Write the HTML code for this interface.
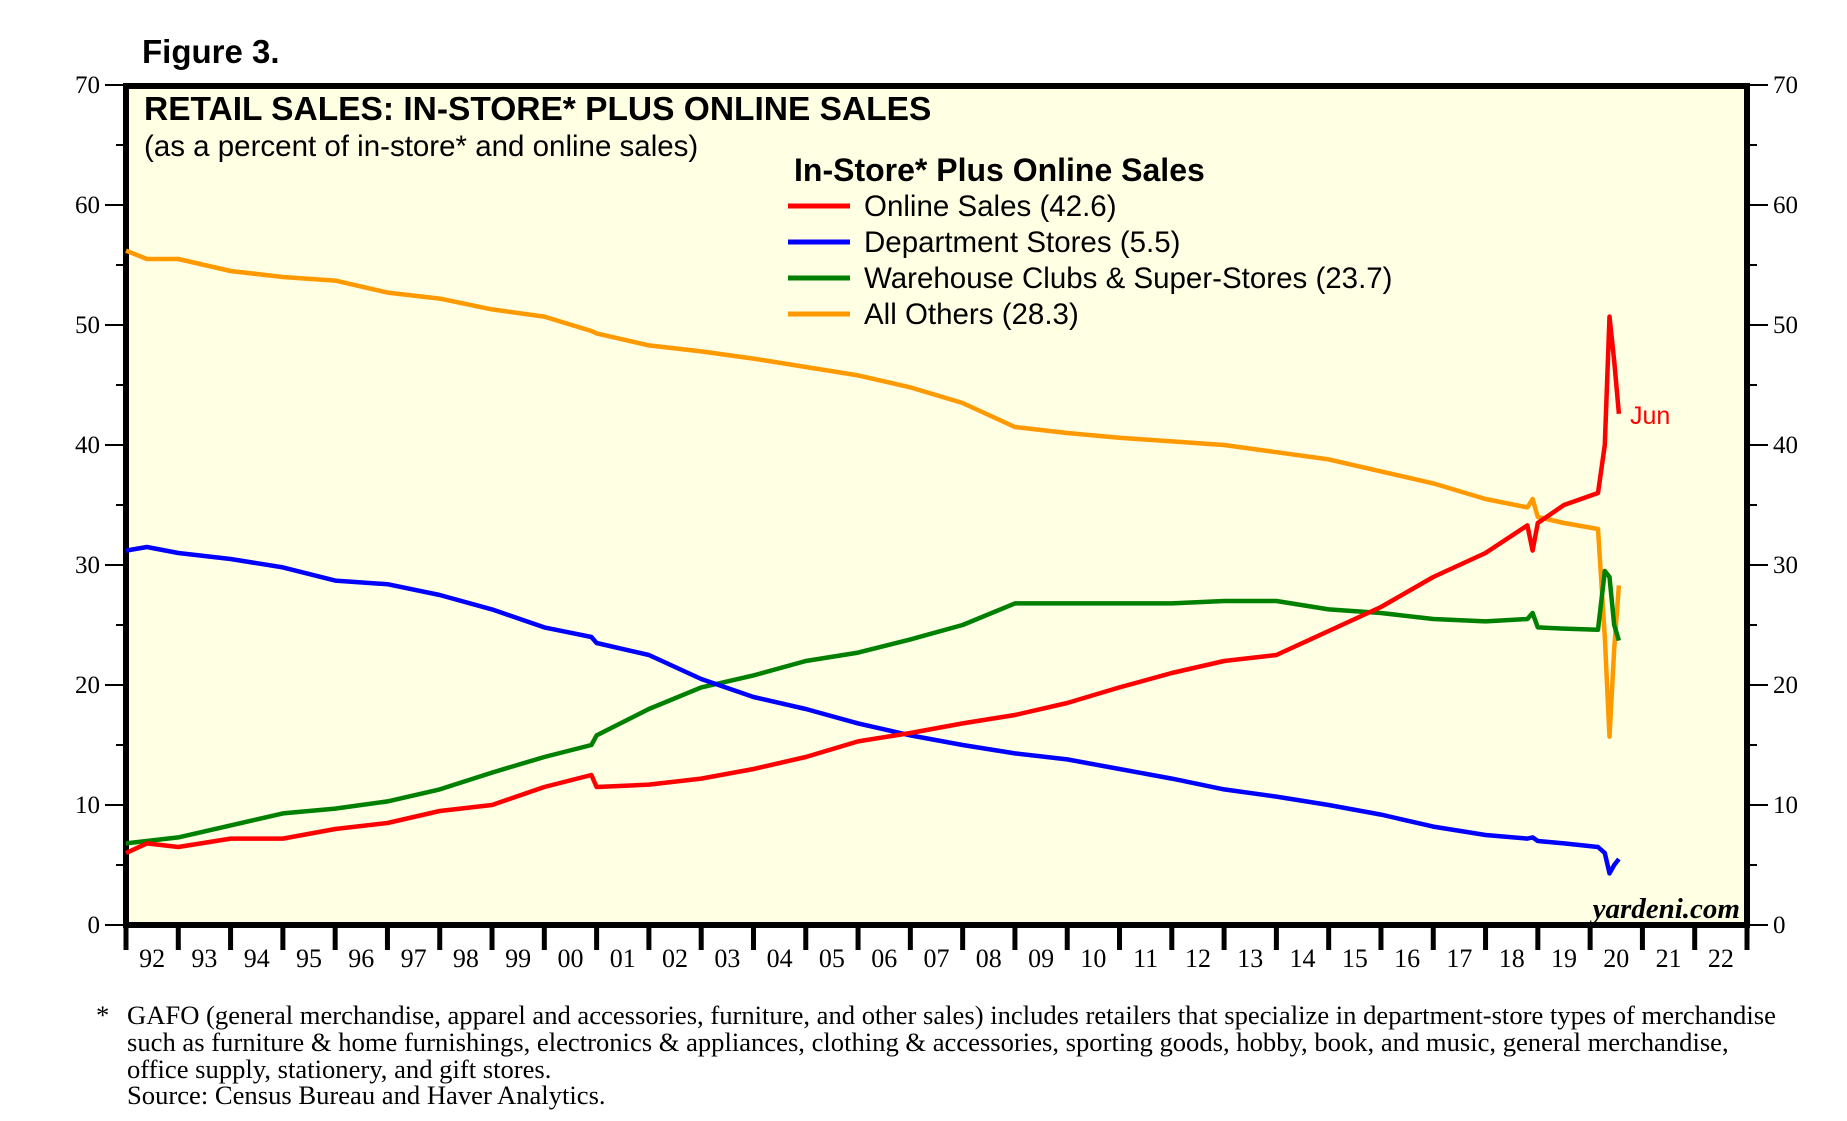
<!DOCTYPE html>
<html><head><meta charset="utf-8"><style>
body{margin:0;background:#fff;}
svg{display:block;}
</style></head><body>
<svg id="chart" width="1847" height="1121" viewBox="0 0 1847 1121" xmlns="http://www.w3.org/2000/svg">
<text x="142" y="63" font-family="Liberation Sans, sans-serif" font-weight="bold" font-size="33">Figure 3.</text>
<rect x="126" y="86" width="1621" height="839" fill="#ffffe3" stroke="#000" stroke-width="6"/>
<g id="axes"></g>
<g id="series"></g>
<text x="144" y="120" font-family="Liberation Sans, sans-serif" font-weight="bold" font-size="33.5">RETAIL SALES: IN-STORE* PLUS ONLINE SALES</text>
<text x="144" y="156" font-family="Liberation Sans, sans-serif" font-size="29.5">(as a percent of in-store* and online sales)</text>
<g id="legend"></g>
<text x="1630" y="424" fill="#f00" font-family="Liberation Sans, sans-serif" font-size="25">Jun</text>
<text x="1740" y="918" text-anchor="end" font-family="Liberation Serif, serif" font-weight="bold" font-style="italic" font-size="29">yardeni.com</text>
<g font-family="Liberation Serif, serif" font-size="26.6">
<text x="96" y="1024">*</text>
<text x="127" y="1024">GAFO (general merchandise, apparel and accessories, furniture, and other sales) includes retailers that specialize in department-store types of merchandise</text>
<text x="127" y="1051">such as furniture &amp; home furnishings, electronics &amp; appliances, clothing &amp; accessories, sporting goods, hobby, book, and music, general merchandise,</text>
<text x="127" y="1078">office supply, stationery, and gift stores.</text>
<text x="127" y="1104">Source: Census Bureau and Haver Analytics.</text>
</g>
</svg>
<script>
const dates = [1992,1992.4,1993,1994,1995,1996,1997,1998,1999,2000,2000.9,2001,2002,2003,2004,2005,2006,2007,2008,2009,2010,2011,2012,2013,2014,2015,2016,2017,2018,2018.8,2018.9,2019,2019.5,2020.15,2020.28,2020.37,2020.46,2020.55];
const online = [6,6.8,6.5,7.2,7.2,8,8.5,9.5,10,11.5,12.5,11.5,11.7,12.2,13,14,15.3,16,16.8,17.5,18.5,19.8,21,22,22.5,24.5,26.5,29,31,33.3,31.2,33.5,35,36,40,50.7,47,42.6];
const dept = [31.2,31.5,31,30.5,29.8,28.7,28.4,27.5,26.3,24.8,24,23.5,22.5,20.5,19,18,16.8,15.8,15,14.3,13.8,13,12.2,11.3,10.7,10,9.2,8.2,7.5,7.2,7.3,7,6.8,6.5,6,4.3,5,5.5];
const warehouse = [6.8,7,7.3,8.3,9.3,9.7,10.3,11.3,12.7,14,15,15.8,18,19.8,20.8,22,22.7,23.8,25,26.8,26.8,26.8,26.8,27,27,26.3,26,25.5,25.3,25.5,26,24.8,24.7,24.6,29.5,29,25,23.7];
const others = [56.2,55.5,55.5,54.5,54,53.7,52.7,52.2,51.3,50.7,49.5,49.3,48.3,47.8,47.2,46.5,45.8,44.8,43.5,41.5,41,40.6,40.3,40,39.4,38.8,37.8,36.8,35.5,34.8,35.5,34,33.5,33,24,15.7,23,28.3];
const yTicks = [0,10,20,30,40,50,60,70];
const yearLabels = ["92","93","94","95","96","97","98","99","00","01","02","03","04","05","06","07","08","09","10","11","12","13","14","15","16","17","18","19","20","21","22"];
const legendNames = ["Online Sales (42.6)","Department Stores (5.5)","Warehouse Clubs & Super-Stores (23.7)","All Others (28.3)"];

const NS="http://www.w3.org/2000/svg";
const X0=126,X1=1747,Y0=925,Y1=85;
function xs(t){return X0+(t-1992)*(X1-X0)/31;}
function ys(v){return Y0-v*(Y0-Y1)/70;}
function mk(tag,attrs,parent){const e=document.createElementNS(NS,tag);for(const k in attrs)e.setAttribute(k,attrs[k]);parent.appendChild(e);return e;}
const axes=document.getElementById('axes');
for(let v=0;v<=70;v+=5){
  const major=v%10===0;
  const l=mk('line',{x1:major?105:116,x2:126,y1:ys(v),y2:ys(v),stroke:'#000','stroke-width':2},axes);
  
  
  const r=mk('line',{x1:1747,x2:major?1768:1757,y1:ys(v),y2:ys(v),stroke:'#000','stroke-width':2},axes);
  
  
}
yTicks.forEach(v=>{
  const a=mk('text',{x:100,y:ys(v)+8,'text-anchor':'end','font-family':'Liberation Serif, serif','font-size':25},axes);a.textContent=v;
  
  
  const b=mk('text',{x:1773,y:ys(v)+8,'font-family':'Liberation Serif, serif','font-size':25},axes);b.textContent=v;
  
  
});
yearLabels.forEach((lab,i)=>{
  const t=mk('line',{x1:xs(1992+i),x2:xs(1992+i),y1:925,y2:950,stroke:'#000','stroke-width':5},axes);
  
  
  const tx=mk('text',{x:xs(1992.5+i),y:967,'text-anchor':'middle','font-family':'Liberation Serif, serif','font-size':26},axes);tx.textContent=lab;
  
  
});
mk('line',{x1:X1,x2:X1,y1:925,y2:950,stroke:'#000','stroke-width':5},axes);
const seriesG=document.getElementById('series');
const seriesList=[[others,'#ff9900','all-others-line'],[warehouse,'#008000','warehouse-clubs-line'],[dept,'#0000ff','department-stores-line'],[online,'#ff0000','online-sales-line']];
seriesList.forEach(([vals,col,name])=>{
  const d=vals.map((v,i)=>(i?'L':'M')+xs(dates[i]).toFixed(1)+','+ys(v).toFixed(1)).join(' ');
  const p=mk('path',{d:d,fill:'none',stroke:col,'stroke-width':4.5,'stroke-linejoin':'round'},seriesG);
  
  
});
const lg=document.getElementById('legend');
const lt=mk('text',{x:794,y:181,'font-family':'Liberation Sans, sans-serif','font-weight':'bold','font-size':32},lg);lt.textContent='In-Store* Plus Online Sales';


const lcols=['#ff0000','#0000ff','#008000','#ff9900'];
legendNames.forEach((n,i)=>{
  const y=206+i*36;
  const ln=mk('line',{x1:788,x2:850,y1:y,y2:y,stroke:lcols[i],'stroke-width':5},lg);
  
  
  const t=mk('text',{x:864,y:y+10,'font-family':'Liberation Sans, sans-serif','font-size':29.5},lg);t.textContent=n;
  
  
});
</script>
</body></html>
